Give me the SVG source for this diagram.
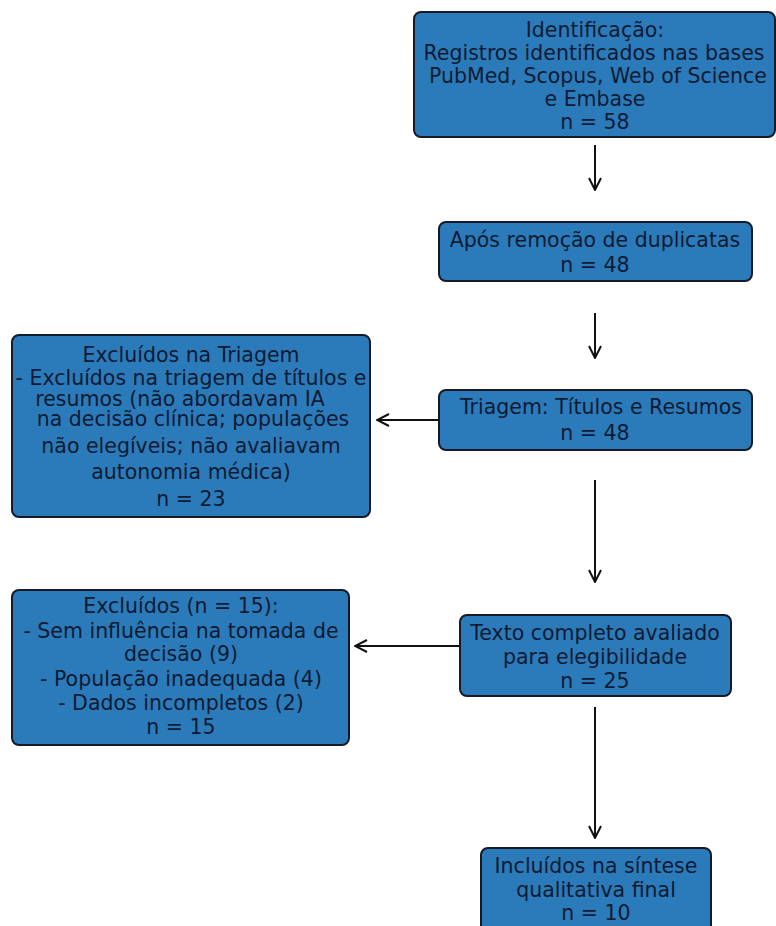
<svg xmlns="http://www.w3.org/2000/svg" width="776" height="926" viewBox="0 0 776 926">
<defs>
<style>
.box{fill:#2b7bba;stroke:#151a26;stroke-width:2}
.t{font-family:"DejaVu Sans",sans-serif;font-size:20.5px;fill:#0f1a33;text-anchor:middle;dominant-baseline:central}
.c{stroke:#111;stroke-width:2;fill:none}
</style>
<marker id="ah" viewBox="0 0 14 14" refX="13" refY="7" markerWidth="14" markerHeight="14" markerUnits="userSpaceOnUse" orient="auto">
<path d="M1,1 L13,7 L1,13" fill="none" stroke="#111" stroke-width="2"/>
</marker>
</defs>
<rect width="776" height="926" fill="#fff"/>
<g id="connectors">
<line class="c" x1="595" y1="145" x2="595" y2="190" marker-end="url(#ah)"/>
<line class="c" x1="595" y1="313" x2="595" y2="358" marker-end="url(#ah)"/>
<line class="c" x1="595" y1="480" x2="595" y2="582" marker-end="url(#ah)"/>
<line class="c" x1="595" y1="707" x2="595" y2="838" marker-end="url(#ah)"/>
<line class="c" x1="439" y1="420" x2="377" y2="420" marker-end="url(#ah)"/>
<line class="c" x1="460" y1="646" x2="355" y2="646" marker-end="url(#ah)"/>
</g>
<g id="identificacao">
<rect class="box" x="414" y="12" width="361" height="125" rx="7"/>
<text class="t" x="595" y="30">Identificação:</text>
<text class="t" x="594" y="53">Registros identificados nas bases</text>
<text class="t" x="598" y="76">PubMed, Scopus, Web of Science</text>
<text class="t" x="595" y="99">e Embase</text>
<text class="t" x="595" y="122">n = 58</text>
</g>
<g id="duplicatas">
<rect class="box" x="439" y="222" width="313" height="59" rx="7"/>
<text class="t" x="595" y="240">Após remoção de duplicatas</text>
<text class="t" x="595" y="265">n = 48</text>
</g>
<g id="triagem">
<rect class="box" x="439" y="390" width="313" height="60" rx="7"/>
<text class="t" x="601" y="407">Triagem: Títulos e Resumos</text>
<text class="t" x="595" y="433">n = 48</text>
</g>
<g id="excluidos-triagem">
<rect class="box" x="12" y="335" width="358" height="182" rx="7"/>
<text class="t" x="191" y="355">Excluídos na Triagem</text>
<text class="t" x="191" y="378">- Excluídos na triagem de títulos e</text>
<text class="t" x="180" y="399">resumos (não abordavam IA</text>
<text class="t" x="193" y="419">na decisão clínica; populações</text>
<text class="t" x="191" y="446">não elegíveis; não avaliavam</text>
<text class="t" x="191" y="472">autonomia médica)</text>
<text class="t" x="191" y="499">n = 23</text>
</g>
<g id="texto-completo">
<rect class="box" x="460" y="615" width="271" height="81" rx="7"/>
<text class="t" x="595" y="633">Texto completo avaliado</text>
<text class="t" x="595" y="657">para elegibilidade</text>
<text class="t" x="595" y="681">n = 25</text>
</g>
<g id="excluidos-15">
<rect class="box" x="12" y="590" width="337" height="155" rx="7"/>
<text class="t" x="181" y="606">Excluídos (n = 15):</text>
<text class="t" x="181" y="631">- Sem influência na tomada de</text>
<text class="t" x="181" y="654">decisão (9)</text>
<text class="t" x="181" y="679">- População inadequada (4)</text>
<text class="t" x="181" y="703">- Dados incompletos (2)</text>
<text class="t" x="181" y="727">n = 15</text>
</g>
<g id="incluidos">
<rect class="box" x="481" y="848" width="230" height="84" rx="7"/>
<text class="t" x="596" y="866">Incluídos na síntese</text>
<text class="t" x="596" y="890">qualitativa final</text>
<text class="t" x="596" y="913">n = 10</text>
</g>
</svg>
